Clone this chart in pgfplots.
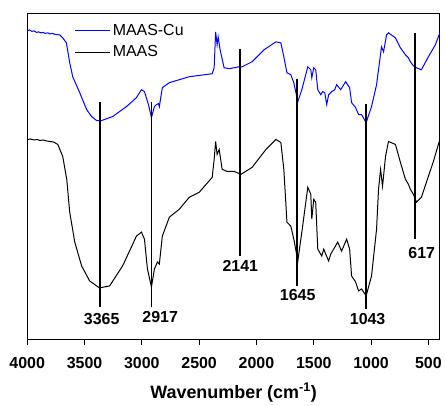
\documentclass[border=0pt]{standalone}
\usepackage{fontspec}
\setmainfont{Liberation Sans}
\usepackage{pgfplots}
\pgfplotsset{compat=1.18}
\begin{document}
\begin{tikzpicture}
\begin{axis}[
  scale only axis, width=414.2pt, height=327pt,
  x dir=reverse, xmin=400, xmax=4000,
  y dir=reverse, ymin=13.3, ymax=340.3,
  xtick={4000,3500,3000,2500,2000,1500,1000,500},
  ytick=\empty,
  xtick pos=bottom, tick align=outside, major tick length=5.7pt,
  /pgf/number format/1000 sep={},
  /pgf/number format/assume math mode=true,
  ticklabel style={font=\fontsize{16}{16}\selectfont\bfseries},
  xticklabel style={yshift=-9pt},
  xlabel={Wavenumber (cm\textsuperscript{-1})},
  xlabel style={font=\fontsize{18}{18}\selectfont\bfseries, yshift=-8pt},
  axis line style={line width=0.8pt},
  every tick/.style={line width=0.8pt, black},
  legend style={draw=none, fill=none, at={(0.1079,0.987)}, anchor=north west,
    font=\fontsize{16}{16}\selectfont,
    nodes={inner ysep=4.5pt},
    /tikz/every even column/.append style={column sep=2pt}},
  legend cell align=left,
  legend image code/.code={\draw[#1] (0pt,0pt) -- (35pt,0pt);},
]
\addlegendimage{color=blue, line width=1pt}
\addlegendentry{MAAS-Cu}
\addlegendimage{color=black, line width=1pt}
\addlegendentry{MAAS}
% MAAS-Cu (blue)
\addplot[color=blue, line width=1pt, forget plot] coordinates {
(4000,31) (3980,30) (3960,31.5) (3940,31) (3920,32.5) (3900,32) (3880,33) (3860,32.5) (3846,33.5) (3820,33) (3800,34) (3780,33.5) (3759,34.5) (3716,35) (3690,38) (3658,43) (3629,63) (3603,77) (3542,93) (3481,110) (3438,117) (3394,121) (3351,121) (3255,117) (3134,107) (3047,98) (3003,90) (2977,92) (2942,105) (2916,118) (2890,107) (2873,105) (2855,104) (2847,107) (2821,88) (2760,83) (2586,77) (2386,74) (2369,68) (2356,32) (2343,45) (2334,37) (2317,50) (2282,68) (2239,69) (2151,67) (2125,67) (2038,62) (1934,50) (1830,42) (1787,43) (1761,57) (1734,73) (1700,75) (1674,83) (1639,102) (1604,90) (1552,67) (1526,70) (1517,78) (1500,68) (1483,70) (1465,90) (1439,95) (1422,92) (1404,93) (1387,105) (1370,95) (1343,92) (1317,90) (1300,85) (1265,90) (1222,82) (1187,88) (1170,103) (1135,108) (1109,115) (1083,115) (1043,123) (996,107) (952,85) (935,70) (909,47) (891,52) (865,35) (848,33) (787,38) (744,48) (700,55) (674,58) (657,62) (631,66) (604,68) (561,70) (500,57) (439,45) (400,33)
};
% MAAS (black)
\addplot[color=black, line width=1pt, forget plot] coordinates {
(4000,140) (3970,139.5) (3940,140.5) (3910,140) (3890,141) (3860,140.5) (3830,141.5) (3803,142) (3770,142.5) (3733,145) (3690,157) (3655,180) (3629,213) (3585,243) (3525,267) (3455,282) (3369,289) (3281,287) (3168,267) (3047,237) (3003,233) (2977,240) (2951,270) (2916,288) (2890,270) (2864,263) (2847,265) (2821,237) (2760,218) (2673,210) (2586,198) (2499,193) (2386,178) (2369,160) (2356,142) (2343,155) (2325,150) (2299,170) (2256,172) (2195,172) (2135,175) (2038,168) (1917,150) (1830,140) (1787,143) (1761,170) (1734,223) (1700,227) (1674,240) (1639,262) (1604,233) (1552,188) (1526,195) (1517,220) (1500,200) (1483,203) (1465,250) (1430,257) (1413,250) (1396,255) (1370,262) (1352,255) (1326,250) (1291,243) (1257,252) (1213,240) (1187,250) (1170,277) (1135,283) (1109,292) (1083,290) (1043,297) (996,277) (952,230) (935,190) (917,170) (900,187) (874,157) (848,142) (787,145) (744,163) (700,180) (674,185) (657,190) (631,195) (604,203) (561,198) (500,177) (456,162) (400,140)
};
% marker lines
\addplot[black, line width=1.6pt, forget plot] coordinates {(3365,102) (3365,308)};
\addplot[black, line width=1.6pt, forget plot] coordinates {(2917,102) (2917,308)};
\addplot[black, line width=1.6pt, forget plot] coordinates {(2141,49) (2141,257)};
\addplot[black, line width=1.6pt, forget plot] coordinates {(1645,79) (1645,287)};
\addplot[black, line width=1.6pt, forget plot] coordinates {(1043,104) (1043,310)};
\addplot[black, line width=1.6pt, forget plot] coordinates {(617,33) (617,240)};
\begin{scope}[every node/.style={font=\fontsize{16}{16}\selectfont\bfseries, anchor=center, inner sep=0pt}]
\node at (axis cs:3350,320) {3365};
\node at (axis cs:2840,318) {2917};
\node at (axis cs:2141,267) {2141};
\node at (axis cs:1640,296) {1645};
\node at (axis cs:1030,320) {1043};
\node at (axis cs:558,254) {617};
\end{scope}
\end{axis}
\path ([shift={(-27.3pt,-58.7pt)}]current axis.south west) rectangle ([shift={(3.5pt,13.3pt)}]current axis.north east);
\end{tikzpicture}
\end{document}
